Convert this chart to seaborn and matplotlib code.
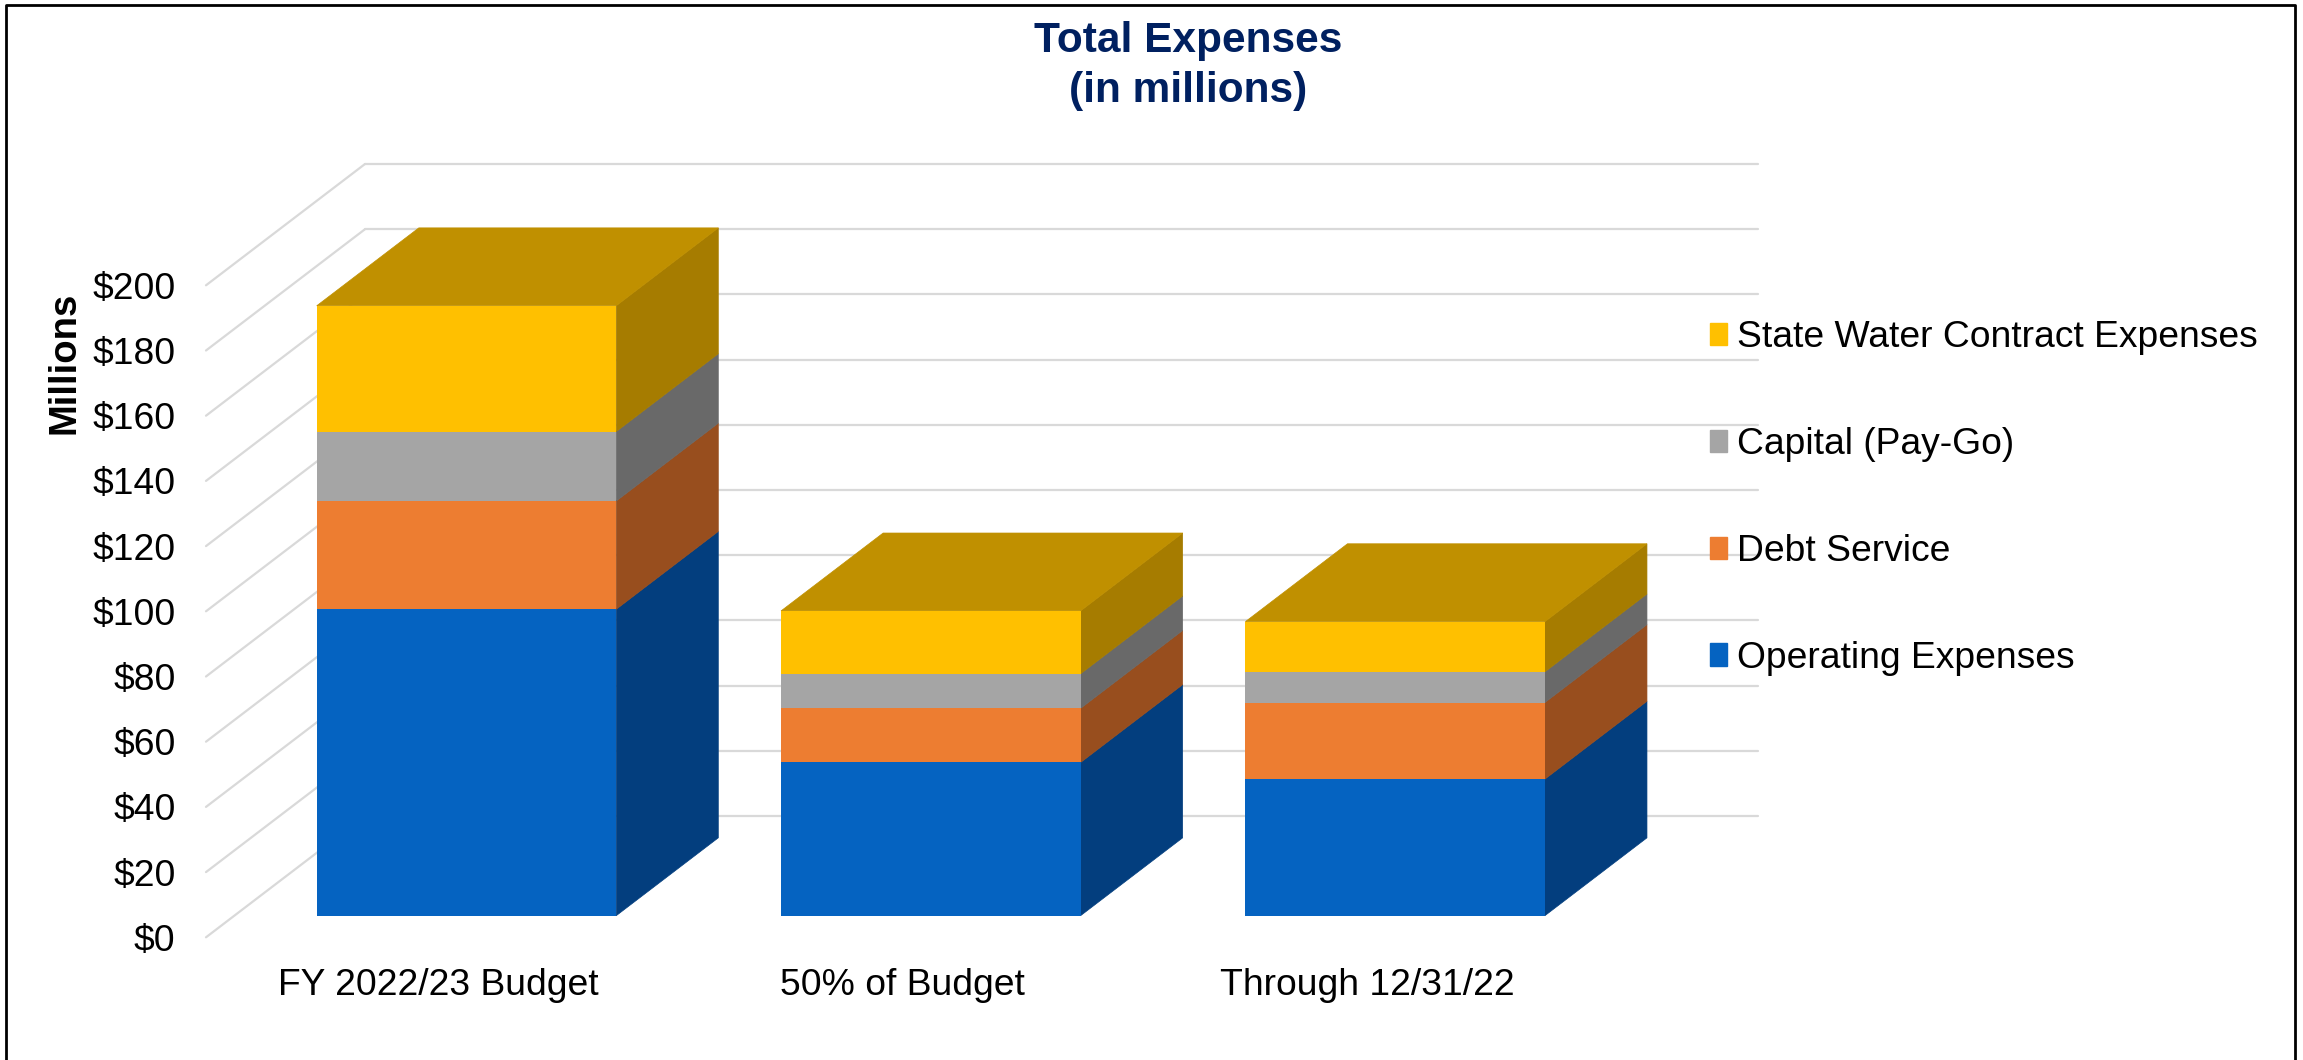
import matplotlib
matplotlib.use("Agg")
import matplotlib.pyplot as plt
import matplotlib.transforms as mtransforms
from matplotlib.patches import Rectangle
import pandas as pd
import seaborn as sns

# Expense categories and stacked series, in millions of dollars
periods = ["FY 2022/23 Budget", "50% of Budget", "Through 12/31/22"]
operating = [94.0, 47.0, 41.9]
debt_service = [33.2, 16.6, 23.5]
capital = [21.3, 10.6, 9.4]
state_water = [38.6, 19.3, 15.4]
y_ticks = list(range(0, 201, 20))

series_names = ["Operating Expenses", "Debt Service", "Capital (Pay-Go)",
                "State Water Contract Expenses"]
series_values = [operating, debt_service, capital, state_water]
front_colors = ["#0563C1", "#ED7D31", "#A5A5A5", "#FFC000"]
side_colors = ["#033E7E", "#984E1E", "#696969", "#A67C00"]
top_color = "#C09000"
grid_color = "#D9D9D9"

W, H, DPI = 2303, 1060, 100
sns.set_theme(style="white")
plt.rcParams["font.family"] = ["Liberation Sans", "DejaVu Sans"]

fig = plt.figure(figsize=(W / DPI, H / DPI), dpi=DPI)
# Front plane of the oblique box: x 206-1599 px, y 285-937 px
ax = fig.add_axes([206 / W, 1 - 937.3 / H, 1393 / W, 652 / H])

# Oblique projection: one unit of depth shifts by this much in data units
DEPTH_X = 159 / (1393 / 3)
DEPTH_Y = 121.3 / (652 / 200)
BAR_FRONT, BAR_BACK = 0.178, 0.82
BAR_WIDTH = 0.645


def oblique(depth):
    return (mtransforms.Affine2D().translate(depth * DEPTH_X, depth * DEPTH_Y)
            + ax.transData)


def depth_point(x, y, depth):
    return x + depth * DEPTH_X, y + depth * DEPTH_Y


def parallelogram(x0, y0, x1, y1, d0, d1, color, z):
    corners = [depth_point(x0, y0, d0), depth_point(x1, y1, d0),
               depth_point(x1, y1, d1), depth_point(x0, y0, d1)]
    xs, ys = zip(*corners)
    ax.fill(xs, ys, color=color, lw=0.5, zorder=z, clip_on=False)


# Stacked front faces
bottoms = [0.0] * len(periods)
legend_handles = []
for name, values, color in zip(series_names, series_values, front_colors):
    frame = pd.DataFrame({"period": periods, "value": values})
    sns.barplot(data=frame, x="period", y="value", color=color, saturation=1,
                width=BAR_WIDTH, bottom=bottoms, errorbar=None, ax=ax,
                zorder=3, linewidth=0)
    legend_handles.append(Rectangle((0, 0), 1, 1, color=color))
    bottoms = [b + v for b, v in zip(bottoms, values)]

for patch in ax.patches:
    patch.set_transform(oblique(BAR_FRONT))
    patch.set_clip_on(False)

# Side and top faces derived from the same stacked values
bottoms = [0.0] * len(periods)
for values, color in zip(series_values, side_colors):
    for i, (b, v) in enumerate(zip(bottoms, values)):
        right = i + BAR_WIDTH / 2
        corners = [depth_point(right, b, BAR_FRONT),
                   depth_point(right, b + v, BAR_FRONT),
                   depth_point(right, b + v, BAR_BACK),
                   depth_point(right, b, BAR_BACK)]
        xs, ys = zip(*corners)
        ax.fill(xs, ys, color=color, lw=0.5, zorder=2.5, clip_on=False)
    bottoms = [b + v for b, v in zip(bottoms, values)]

for i, total in enumerate(bottoms):
    parallelogram(i - BAR_WIDTH / 2, total, i + BAR_WIDTH / 2, total,
                  BAR_FRONT, BAR_BACK, top_color, 2.6)

# Gridlines on the side wall and back wall
for tick in y_ticks:
    x0, y0 = depth_point(-0.5, tick, 0)
    x1, y1 = depth_point(-0.5, tick, 1)
    ax.plot([x0, x1], [y0, y1], color=grid_color, lw=1.6, zorder=1, clip_on=False)
    ax.plot([-0.5, 2.5], [tick, tick], color=grid_color, lw=1.6, zorder=1,
            clip_on=False, transform=oblique(1))

ax.set_xlim(-0.5, 2.5)
ax.set_ylim(0, 200)
ax.set_yticks(y_ticks)
ax.set_yticklabels([f"${t}" for t in y_ticks])
ax.tick_params(axis="y", length=0, pad=22, labelsize=26.8, labelcolor="black")
ax.tick_params(axis="x", length=0, pad=22, labelsize=26.8, labelcolor="black")
ax.set_xlabel("")
ax.set_ylabel("Millions", fontsize=27.5, fontweight="bold", color="black")
ax.yaxis.set_label_coords(-0.0885, 0.881)
sns.despine(ax=ax, left=True, bottom=True)
ax.patch.set_alpha(0)

ax.legend(legend_handles[::-1], series_names[::-1], loc="center left",
          bbox_to_anchor=(1710 / W, 1 - 498 / H), bbox_transform=fig.transFigure,
          frameon=False, fontsize=26.8, handlelength=0.46, handleheight=0.55,
          labelspacing=1.93, handletextpad=0.27, labelcolor="black",
          borderaxespad=0, borderpad=0)

fig.text(1188 / W, 1 - 66 / H, "Total Expenses\n(in millions)", ha="center",
         va="center", fontsize=30.5, fontweight="bold", color="#002060",
         linespacing=1.34)

# Outer chart border
fig.add_artist(plt.Line2D([5.7 / W, 5.7 / W, 2295 / W, 2295 / W],
                          [0, 1 - 5 / H, 1 - 5 / H, 0],
                          color="black", lw=2, transform=fig.transFigure))

fig.savefig("out.png", dpi=DPI, facecolor="white")
